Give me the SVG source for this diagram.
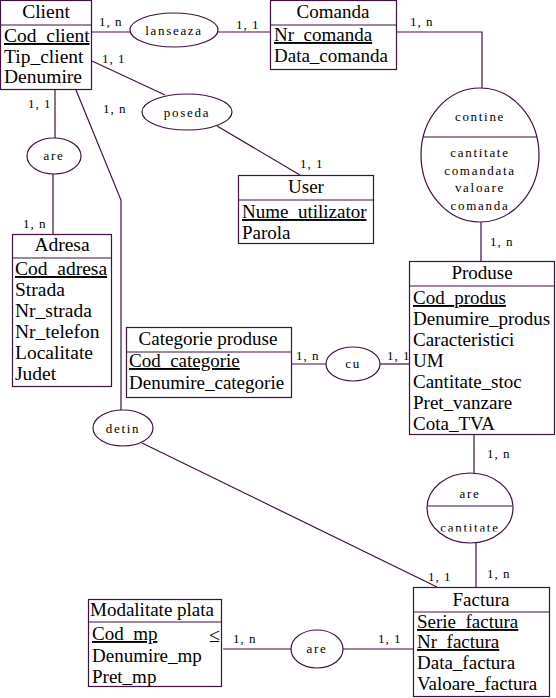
<svg xmlns="http://www.w3.org/2000/svg" width="556" height="698" viewBox="0 0 556 698">
<style>
.box{fill:#fff;stroke:#401040;stroke-width:1.2}
.ln{fill:none;stroke:#401040;stroke-width:1.2}
.el{fill:#fff;stroke:#401040;stroke-width:1.2}
.t{font-size:19.5px}
.tc{font-size:19.5px;text-anchor:middle}
.u{text-decoration:underline}
.r{font-size:13px;letter-spacing:1.7px;text-anchor:middle}
</style>
<rect width="556" height="698" fill="#fff"/>
<g id="connectors" font-family="Liberation Serif" font-size="13" letter-spacing="1">
<line class="ln" x1="92" y1="32" x2="130" y2="32"/>
<line class="ln" x1="218" y1="32" x2="270" y2="32"/>
<polyline class="ln" points="397,32 482,32 482,88"/>
<line class="ln" x1="481" y1="222" x2="481" y2="261"/>
<line class="ln" x1="92" y1="61" x2="165" y2="95"/>
<line class="ln" x1="217" y1="126" x2="300" y2="175"/>
<line class="ln" x1="55" y1="90" x2="55" y2="138"/>
<line class="ln" x1="53" y1="174" x2="53" y2="234"/>
<polyline class="ln" points="76,90 121,200 121,410"/>
<line class="ln" x1="142" y1="443" x2="437" y2="587"/>
<line class="ln" x1="291" y1="364" x2="326" y2="364"/>
<line class="ln" x1="380" y1="364" x2="409" y2="364"/>
<line class="ln" x1="474" y1="434" x2="474" y2="473"/>
<line class="ln" x1="476" y1="543" x2="476" y2="587"/>
<line class="ln" x1="223" y1="649" x2="291" y2="649"/>
<line class="ln" x1="343" y1="649" x2="413" y2="649"/>
<text x="99" y="26">1, n</text>
<text x="236" y="29">1, 1</text>
<text x="410" y="26">1, n</text>
<text x="490" y="246">1, n</text>
<text x="102" y="63">1, 1</text>
<text x="300" y="168">1, 1</text>
<text x="28" y="108">1, 1</text>
<text x="23" y="228">1, n</text>
<text x="103" y="113">1, n</text>
<text x="428" y="581">1, 1</text>
<text x="296" y="360">1, n</text>
<text x="387" y="360">1, 1</text>
<text x="487" y="458">1, n</text>
<text x="487" y="578">1, n</text>
<text x="233" y="643">1, n</text>
<text x="378" y="643">1, 1</text>
</g>
<g id="lanseaza" font-family="Liberation Serif">
<ellipse class="el" cx="174" cy="30" rx="44" ry="17"/>
<text class="r" x="174" y="35">lanseaza</text>
</g>
<g id="poseda" font-family="Liberation Serif">
<ellipse class="el" cx="187" cy="112" rx="45" ry="18"/>
<text class="r" x="187" y="117">poseda</text>
</g>
<g id="are_adresa" font-family="Liberation Serif">
<ellipse class="el" cx="54" cy="156" rx="27" ry="18"/>
<text class="r" x="54" y="160">are</text>
</g>
<g id="detin" font-family="Liberation Serif">
<ellipse class="el" cx="123" cy="428" rx="30" ry="18"/>
<text class="r" x="123" y="433">detin</text>
</g>
<g id="cu" font-family="Liberation Serif">
<ellipse class="el" cx="353" cy="364" rx="27" ry="17"/>
<text class="r" x="353" y="368">cu</text>
</g>
<g id="contine" font-family="Liberation Serif">
<ellipse class="el" cx="480" cy="155" rx="59" ry="67"/>
<line class="ln" x1="423" y1="137" x2="537" y2="137"/>
<text class="r" x="480" y="121">contine</text>
<text class="r" x="480" y="157">cantitate</text>
<text class="r" x="480" y="175">comandata</text>
<text class="r" x="480" y="192">valoare</text>
<text class="r" x="480" y="210">comanda</text>
</g>
<g id="are_factura" font-family="Liberation Serif">
<ellipse class="el" cx="470" cy="508" rx="43" ry="35"/>
<line class="ln" x1="428" y1="506" x2="512" y2="506"/>
<text class="r" x="470" y="498">are</text>
<svg x="420" y="510" width="110" height="21.5" viewBox="420 510 110 21.5"><text class="r" x="470" y="532">cantitate</text></svg>
</g>
<g id="are_plata" font-family="Liberation Serif">
<ellipse class="el" cx="317" cy="649" rx="26" ry="19"/>
<text class="r" x="317" y="653">are</text>
</g>
<g id="Client" font-family="Liberation Serif" font-size="19.5">
<rect class="box" x="0.5" y="0.5" width="91" height="89"/>
<line class="ln" x1="0" y1="25" x2="92" y2="25"/>
<text x="46" y="18" text-anchor="middle">Client</text>
<text x="4" y="42" text-decoration="underline">Cod_client</text>
<text x="4" y="63">Tip_client</text>
<text x="4" y="83">Denumire</text>
</g>
<g id="Comanda" font-family="Liberation Serif" font-size="19">
<rect class="box" x="270.5" y="0.5" width="126" height="69"/>
<line class="ln" x1="270" y1="25" x2="397" y2="25"/>
<text x="333" y="18" text-anchor="middle">Comanda</text>
<text x="274" y="41" text-decoration="underline">Nr_comanda</text>
<text x="274" y="62">Data_comanda</text>
</g>
<g id="User">
<rect class="box" x="238.5" y="175.5" width="135" height="68"/>
<line class="ln" x1="238" y1="200" x2="374" y2="200"/>
<text style="font-family:'Liberation Serif';font-size:19px;text-anchor:middle" x="306" y="193">User</text>
<text style="font-family:'Liberation Serif';font-size:19px;text-decoration:underline" x="242" y="218">Nume_utilizator</text>
<text style="font-family:'Liberation Serif';font-size:19px" x="242" y="239">Parola</text>
</g>
<g id="Adresa" font-family="Liberation Serif">
<rect class="box" x="12.5" y="234.5" width="99" height="152"/>
<line class="ln" x1="12" y1="258" x2="112" y2="258"/>
<text class="tc" x="62" y="251">Adresa</text>
<text class="t u" x="15" y="275">Cod_adresa</text>
<text class="t" x="15" y="296">Strada</text>
<text class="t" x="15" y="317">Nr_strada</text>
<text class="t" x="15" y="338">Nr_telefon</text>
<text class="t" x="15" y="359">Localitate</text>
<text class="t" x="15" y="380">Judet</text>
</g>
<g id="Categorie" font-family="Liberation Serif" font-size="19">
<rect class="box" x="126.5" y="327.5" width="165" height="70"/>
<line class="ln" x1="126" y1="352" x2="292" y2="352"/>
<text x="208" y="345" text-anchor="middle">Categorie produse</text>
<text x="129" y="367" text-decoration="underline">Cod_categorie</text>
<text x="129" y="389">Denumire_categorie</text>
</g>
<g id="Produse" font-family="serif" font-size="19">
<rect class="box" x="409.5" y="261.5" width="145" height="173"/>
<line class="ln" x1="409" y1="286" x2="555" y2="286"/>
<text x="482" y="279" text-anchor="middle">Produse</text>
<text x="413" y="304" text-decoration="underline">Cod_produs</text>
<text x="413" y="325">Denumire_produs</text>
<text x="413" y="346">Caracteristici</text>
<text x="413" y="367">UM</text>
<text x="413" y="388">Cantitate_stoc</text>
<text x="413" y="409">Pret_vanzare</text>
<text x="413" y="430">Cota_TVA</text>
</g>
<g id="Factura" font-family="Times New Roman" font-size="19">
<rect class="box" x="413.5" y="587.5" width="136" height="109"/>
<line class="ln" x1="413" y1="612" x2="550" y2="612"/>
<text x="481" y="606" text-anchor="middle">Factura</text>
<text x="417" y="628" text-decoration="underline">Serie_factura</text>
<text x="417" y="648" text-decoration="underline">Nr_factura</text>
<text x="417" y="669">Data_factura</text>
<text x="417" y="690">Valoare_factura</text>
</g>
<g id="Modalitate" font-family="Liberation Serif" font-size="19">
<rect class="box" x="88.5" y="599.5" width="133" height="87"/>
<line class="ln" x1="88" y1="622" x2="222" y2="622"/>
<text x="90" y="616">Modalitate plata</text>
<text x="92" y="640" text-decoration="underline">Cod_mp</text>
<text x="92" y="662">Denumire_mp</text>
<text x="92" y="683">Pret_mp</text>
<text x="209" y="642" font-size="20">&#x2264;</text>
</g>
</svg>
